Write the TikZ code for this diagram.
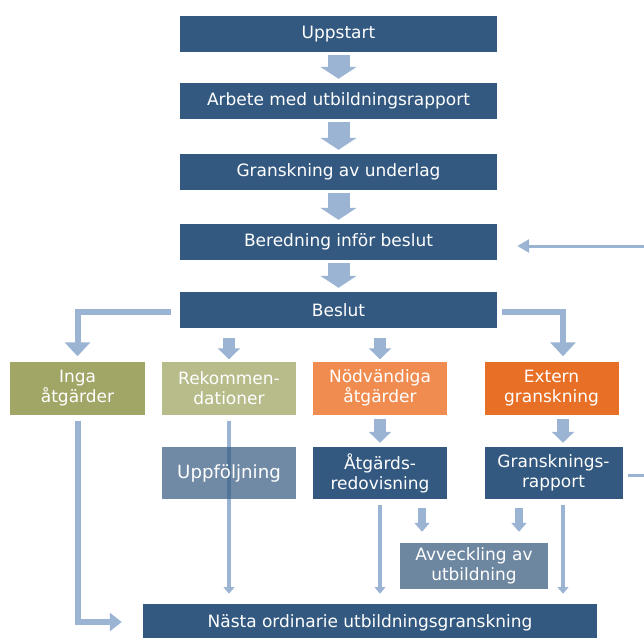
\documentclass[tikz,border=0pt]{standalone}
\usepackage{fontspec}
\setmainfont{DejaVu Sans}
\usetikzlibrary{arrows.meta}

\definecolor{boxblue}{RGB}{51,89,128}
\definecolor{arrowblue}{RGB}{155,180,212}
\definecolor{olivebox}{RGB}{161,166,103}
\definecolor{palebox}{RGB}{184,187,138}
\definecolor{lightorange}{RGB}{240,140,80}
\definecolor{darkorange}{RGB}{232,112,38}
\definecolor{greyblue}{RGB}{110,135,160}

\begin{document}
\begin{tikzpicture}[x=0.03cm, y=-0.03cm,
    box/.style={rectangle, fill=boxblue, text=white, align=center,
        inner sep=0pt, font=\fontsize{14.5}{17}\selectfont},
    widebox/.style={box, minimum width=9.51cm, minimum height=1.08cm},
    smallbox/.style={box, minimum width=4.02cm, minimum height=1.59cm},
    bigarrow/.style={draw=arrowblue, line width=6.6mm,
        -{Triangle[width=10.8mm,length=3.6mm]}, shorten <=0.9mm, shorten >=1.2mm},
    midarrow/.style={draw=arrowblue, line width=3.6mm,
        -{Triangle[width=6.6mm,length=3.3mm]}},
    bendarrow/.style={draw=arrowblue, line width=1.8mm,
        -{Triangle[width=7.5mm,length=4.2mm]}},
    smallarrow/.style={draw=arrowblue, line width=2.4mm,
        -{Triangle[width=4.5mm,length=2.7mm]}},
    thinarrow/.style={draw=arrowblue, line width=1.2mm,
        -{Triangle[width=3.2mm,length=2mm]}},
    feedback/.style={draw=arrowblue, line width=0.9mm,
        -{Triangle[width=3.9mm,length=3.6mm]}}]

    \clip (0,0) rectangle (644,637);

    % main column
    \node[widebox] (upp) at (338.5,34) {Uppstart};
    \node[widebox] (arb) at (338.5,101) {Arbete med utbildningsrapport};
    \node[widebox] (gransk) at (338.5,172) {Granskning av underlag};
    \node[widebox] (bered) at (338.5,242) {Beredning inför beslut};
    \node[widebox] (besl) at (338.5,310) {Beslut};

    % outcomes
    \node[smallbox, fill=olivebox] (inga) at (77.5,388) {Inga\\åtgärder};
    \node[smallbox, fill=palebox] (rek) at (229,388) {Rekommen-\\dationer};
    \node[smallbox, fill=lightorange] (nodv) at (380,388) {Nödvändiga\\åtgärder};
    \node[smallbox, fill=darkorange] (ext) at (551.5,388) {Extern\\granskning};

    % follow-up
    \node[smallbox, minimum height=1.56cm] (atg) at (380,473) {Åtgärds-\\redovisning};
    \node[smallbox, minimum width=4.14cm, minimum height=1.56cm] (gr) at (553.5,473) {Gransknings-\\rapport};
    \node[box, fill=greyblue, minimum width=4.44cm, minimum height=1.38cm] (avv) at (474,566) {Avveckling av\\utbildning};
    \node[box, minimum width=13.62cm, minimum height=1.14cm] (nasta) at (370,623) {Nästa ordinarie utbildningsgranskning};

    \coordinate (rcol) at (563,0);
    \coordinate (lmid) at (422,0);
    \coordinate (rmid) at (519,0);
    \coordinate (fb) at (680,0);

    % connections
    \draw[bigarrow] (upp) -- (arb);
    \draw[bigarrow] (arb) -- (gransk);
    \draw[bigarrow] (gransk) -- (bered);
    \draw[bigarrow] (bered) -- (besl);

    \draw[bendarrow] ([xshift=-2.7mm,yshift=-0.6mm]besl.west) -| ([yshift=1.5mm]inga.north);
    \draw[bendarrow] ([xshift=1.5mm,yshift=-0.6mm]besl.east) -| ([yshift=1.5mm]ext.north -| rcol);
    \draw[midarrow, shorten <=3mm, shorten >=0.6mm] (besl.south -| rek) -- (rek.north);
    \draw[midarrow, shorten <=3mm, shorten >=0.6mm] (besl.south -| nodv) -- (nodv.north);
    \draw[midarrow, shorten <=1.2mm, shorten >=1.2mm] (nodv) -- (atg);
    \draw[midarrow, shorten <=1.2mm, shorten >=1.2mm] (ext.south -| rcol) -- (gr.north -| rcol);

    \draw[bendarrow, -{Triangle[width=5.4mm,length=3.6mm]}]
        ([yshift=-1.8mm]inga.south) |- ([xshift=-6.3mm,yshift=0.3mm]nasta.west);
    \draw[thinarrow, shorten <=1.8mm, shorten >=3mm] (rek.south) -- (rek.south |- nasta.north);
    \draw[thinarrow, shorten <=1.8mm, shorten >=3mm] (atg.south) -- (atg.south |- nasta.north);
    \draw[thinarrow, shorten <=1.8mm, shorten >=3mm] (gr.south -| rcol) -- (nasta.north -| rcol);
    \draw[smallarrow, shorten <=2.7mm, shorten >=3.3mm] (atg.south -| lmid) -- (avv.north -| lmid);
    \draw[smallarrow, shorten <=2.7mm, shorten >=3.3mm] (gr.south -| rmid) -- (avv.north -| rmid);

    % feedback loop back to Beredning
    \draw[feedback] ([xshift=1.5mm,yshift=-0.6mm]gr.east) -- ([yshift=-0.6mm]gr.east -| fb)
        |- ([xshift=6mm,yshift=-1.2mm]bered.east);

    % Uppfoljning over the line
    \node[box, fill=boxblue, fill opacity=0.7, text opacity=1, minimum width=4.02cm,
        minimum height=1.56cm, font=\fontsize{15.5}{18}\selectfont] (uppf) at (229,473) {Uppföljning};

\end{tikzpicture}
\end{document}
